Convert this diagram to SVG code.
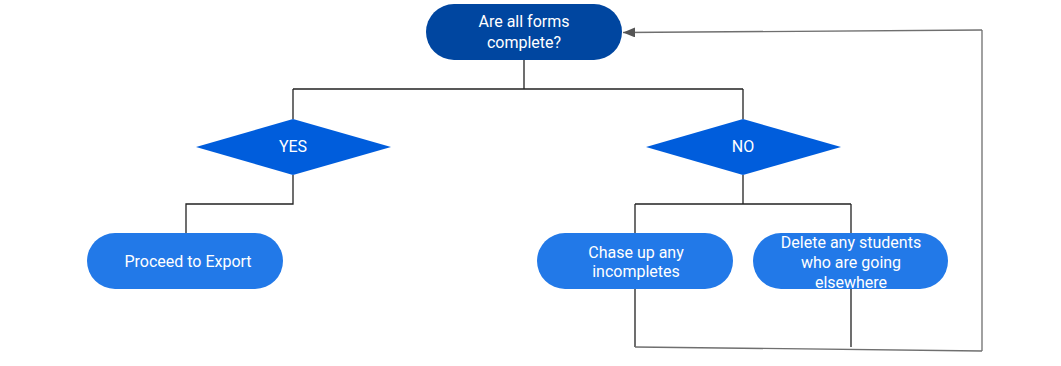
<svg xmlns="http://www.w3.org/2000/svg" width="1061" height="366" viewBox="0 0 1061 366">
<defs>
<style>
.t{font-family:Roboto,"Noto Sans",sans-serif;font-size:16px;fill:#ffffff;text-anchor:middle}
.c{fill:none;stroke:#222;stroke-width:1.3}
.g{fill:none;stroke:#6f6f6f;stroke-width:1.3}
</style>
<marker id="ah" markerWidth="12" markerHeight="10" refX="12" refY="5" orient="auto" markerUnits="userSpaceOnUse">
<path d="M0,0 L12,5 L0,10 Z" fill="#555"/>
</marker>
</defs>
<rect width="1061" height="366" fill="#fff"/>
<g id="connectors">
<path class="c" d="M524,60 V89 M293,89 H743 M293,89 V119 M743,89 V119"/>
<path class="c" d="M293,175 V204 H186 V233"/>
<path class="c" d="M743,175 V204 M635,204 H851 M635,204 V233 M851,204 V233"/>
<path class="c" d="M635,289 V347 M851,289 V347"/>
<path class="g" d="M635,347 L982,351 M982,351 V30"/>
<path class="g" d="M982,30 L623,32.5" marker-end="url(#ah)"/>
</g>
<g id="node-start">
<rect x="426" y="4" width="196" height="56" rx="28" fill="#0046a0"/>
<text class="t" x="524" y="27">Are all forms</text>
<text class="t" x="524" y="48">complete?</text>
</g>
<g id="node-yes">
<polygon points="196,147 293,119 391,147 293,175" fill="#005ddc"/>
<text class="t" x="293" y="152">YES</text>
</g>
<g id="node-no">
<polygon points="646,147 743,119 841,147 743,175" fill="#005ddc"/>
<text class="t" x="743" y="152">NO</text>
</g>
<g id="node-export">
<rect x="87" y="233" width="196" height="56" rx="28" fill="#2279e8"/>
<text class="t" x="188" y="267">Proceed to Export</text>
</g>
<g id="node-chase">
<rect x="537" y="233" width="196" height="56" rx="28" fill="#2279e8"/>
<text class="t" x="636" y="258">Chase up any</text>
<text class="t" x="636" y="277">incompletes</text>
</g>
<g id="node-delete">
<rect x="753" y="233" width="195" height="56" rx="28" fill="#2279e8"/>
<text class="t" x="851" y="248">Delete any students</text>
<text class="t" x="851" y="268">who are going</text>
<text class="t" x="851" y="288">elsewhere</text>
</g>
</svg>
